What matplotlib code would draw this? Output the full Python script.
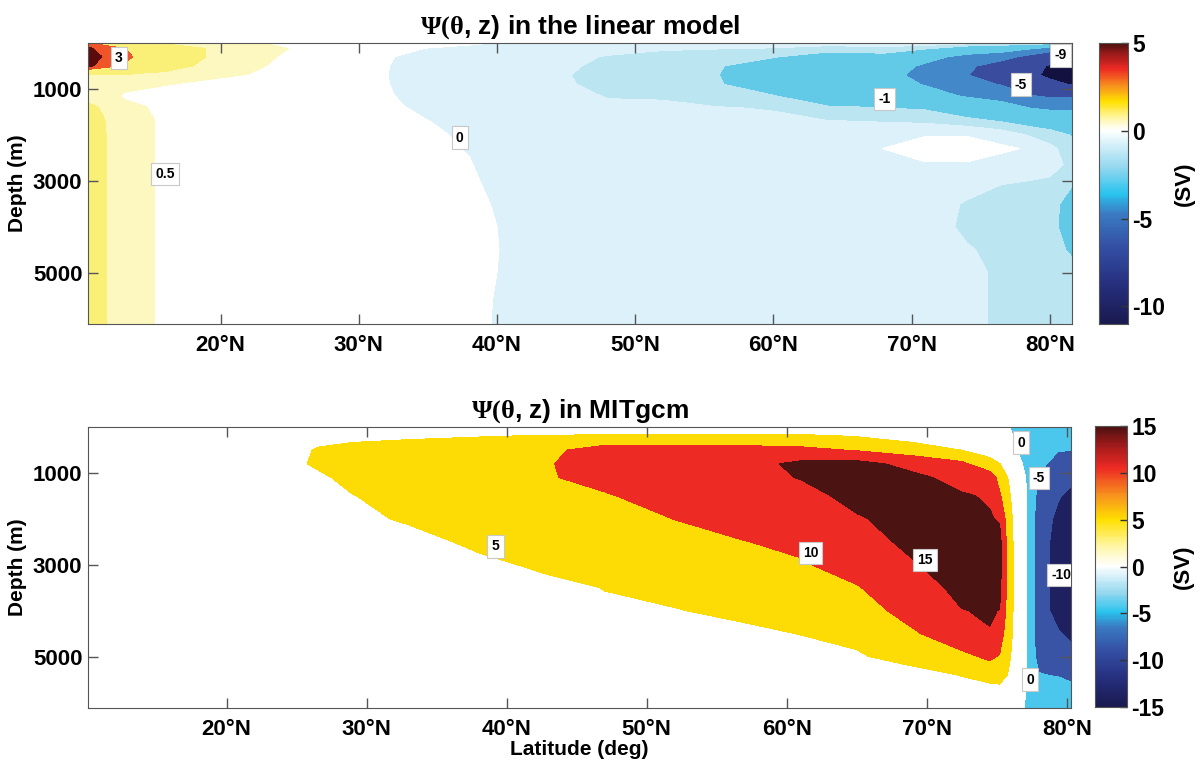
import numpy as np
import matplotlib.pyplot as plt
from matplotlib.colors import LinearSegmentedColormap, TwoSlopeNorm

plt.rcParams['font.family'] = ['Liberation Sans', 'DejaVu Sans']
plt.rcParams['font.weight'] = 'bold'
plt.rcParams['mathtext.fontset'] = 'custom'
plt.rcParams['mathtext.rm'] = 'Liberation Serif'
plt.rcParams['mathtext.it'] = 'Liberation Serif'
plt.rcParams['axes.unicode_minus'] = False

# ---------------- linear model: psi (Sv) ----------------
lat_lin = [10.4, 11.5, 13, 14.5, 16, 19, 22, 25, 29, 32, 35, 38, 41, 45, 48,
           52, 56, 60, 64, 68, 71, 74, 76.5, 78.5, 80, 81.6]
depth_lin = [0, 120, 300, 500, 700, 900, 1150, 1400, 1700, 2000, 2300, 2650,
             3000, 3500, 4000, 4500, 5000, 5600, 6120]
# one profile (over depth_lin) per latitude in lat_lin
psi_lin = np.array([
    [3.3, 4.2, 5.0, 4.3, 0.9, 0.75, 0.85, 1.1, 1.3, 1.35, 1.35, 1.35, 1.35, 1.35, 1.35, 1.35, 1.35, 1.35, 1.35],
    [2.6, 3.6, 3.9, 3.5, 0.95, 0.75, 0.8, 0.95, 1.03, 1.05, 1.05, 1.05, 1.05, 1.05, 1.05, 1.05, 1.05, 1.05, 1.05],
    [1.2, 3.1, 3.5, 2.9, 0.95, 0.62, 0.45, 0.6, 0.68, 0.7, 0.7, 0.7, 0.7, 0.7, 0.7, 0.7, 0.7, 0.7, 0.7],
    [0.85, 2.0, 2.3, 1.8, 0.75, 0.6, 0.35, 0.52, 0.6, 0.6, 0.6, 0.6, 0.6, 0.6, 0.6, 0.6, 0.6, 0.6, 0.6],
    [0.8, 1.8, 2.0, 1.4, 0.75, 0.52, 0.3, 0.35, 0.4, 0.4, 0.4, 0.4, 0.4, 0.4, 0.4, 0.4, 0.4, 0.4, 0.4],
    [0.55, 0.98, 0.98, 0.8, 0.6, 0.4, 0.3, 0.28, 0.26, 0.25, 0.25, 0.25, 0.25, 0.25, 0.25, 0.25, 0.25, 0.25, 0.25],
    [0.55, 0.75, 0.72, 0.65, 0.48, 0.3, 0.2, 0.2, 0.2, 0.2, 0.2, 0.2, 0.2, 0.2, 0.2, 0.2, 0.2, 0.2, 0.2],
    [0.4, 0.49, 0.4, 0.3, 0.2, 0.18, 0.15, 0.15, 0.15, 0.15, 0.15, 0.15, 0.15, 0.15, 0.15, 0.15, 0.15, 0.15, 0.15],
    [0.12, 0.15, 0.15, 0.15, 0.15, 0.15, 0.15, 0.15, 0.15, 0.15, 0.15, 0.15, 0.15, 0.15, 0.15, 0.15, 0.15, 0.15, 0.15],
    [0.1, 0.1, 0.06, 0.03, 0.02, 0.03, 0.06, 0.1, 0.1, 0.1, 0.1, 0.1, 0.1, 0.1, 0.1, 0.1, 0.1, 0.1, 0.1],
    [0.1, -0.01, -0.24, -0.4, -0.4, -0.4, -0.24, -0.11, 0.005, 0.05, 0.08, 0.1, 0.1, 0.1, 0.1, 0.1, 0.1, 0.1, 0.1],
    [0.1, -0.15, -0.3, -0.4, -0.42, -0.42, -0.35, -0.25, -0.1, -0.05, -0.02, 0.02, 0.05, 0.08, 0.1, 0.1, 0.1, 0.1, 0.1],
    [-0.08, -0.2, -0.35, -0.42, -0.45, -0.45, -0.4, -0.35, -0.3, -0.25, -0.22, -0.2, -0.15, -0.08, -0.05, -0.04, -0.05, -0.08, -0.09],
    [-0.15, -0.3, -0.42, -0.47, -0.49, -0.48, -0.45, -0.4, -0.35, -0.3, -0.27, -0.25, -0.22, -0.2, -0.18, -0.17, -0.17, -0.18, -0.18],
    [-0.2, -0.4, -0.52, -0.55, -0.57, -0.56, -0.51, -0.47, -0.42, -0.38, -0.35, -0.32, -0.3, -0.27, -0.25, -0.24, -0.24, -0.24, -0.24],
    [-0.25, -0.4, -0.8, -0.9, -0.92, -0.85, -0.55, -0.42, -0.4, -0.38, -0.36, -0.34, -0.32, -0.3, -0.28, -0.27, -0.26, -0.26, -0.26],
    [-0.3, -0.48, -0.8, -0.95, -0.99, -0.95, -0.8, -0.49, -0.45, -0.4, -0.38, -0.36, -0.34, -0.32, -0.3, -0.29, -0.28, -0.28, -0.28],
    [-0.35, -0.52, -0.95, -1.4, -1.6, -1.45, -0.98, -0.52, -0.45, -0.4, -0.38, -0.36, -0.35, -0.33, -0.32, -0.31, -0.3, -0.3, -0.3],
    [-0.3, -0.7, -1.4, -1.9, -2.2, -2.0, -1.5, -0.95, -0.49, -0.42, -0.38, -0.36, -0.35, -0.34, -0.32, -0.31, -0.3, -0.3, -0.3],
    [-0.3, -0.6, -1.3, -2.0, -2.5, -2.3, -1.7, -1.02, -0.52, -0.3, 0.01, -0.3, -0.4, -0.38, -0.36, -0.34, -0.33, -0.33, -0.33],
    [-0.2, -0.9, -2.3, -3.3, -3.5, -3.1, -2.3, -1.1, -0.6, -0.02, 0.15, -0.03, -0.35, -0.4, -0.38, -0.36, -0.35, -0.35, -0.35],
    [-0.25, -1.6, -3.6, -4.6, -4.9, -4.4, -3.2, -1.6, -0.8, -0.02, 0.15, -0.03, -0.4, -0.52, -0.55, -0.48, -0.44, -0.44, -0.44],
    [-0.3, -2.0, -4.2, -6.0, -6.8, -5.1, -3.8, -2.2, -1.05, -0.2, 0.08, -0.2, -0.48, -0.6, -0.62, -0.56, -0.54, -0.54, -0.54],
    [-0.4, -2.8, -5.6, -7.8, -8.3, -6.8, -4.9, -3.1, -1.3, -0.55, -0.04, -0.3, -0.5, -0.6, -0.62, -0.6, -0.6, -0.6, -0.6],
    [-0.5, -3.6, -7.0, -9.3, -9.6, -8.2, -5.3, -3.4, -1.5, -0.7, -0.4, -0.35, -0.55, -0.75, -0.8, -0.75, -0.7, -0.68, -0.65],
    [-0.6, -4.0, -7.5, -9.8, -10.4, -9.2, -5.2, -3.4, -1.8, -1.05, -0.7, -0.6, -0.9, -1.3, -1.35, -1.1, -0.8, -0.7, -0.65],
]).T
levels_lin = [-30, -9, -5, -3, -1, -0.5, 0, 0.5, 1, 3, 4, 30]
colors_lin = ['#13113f', '#3a4c9e', '#4388c8', '#62c9e7', '#bae5f1', '#dcf1fa',
              '#ffffff', '#fdf8c0', '#faf078', '#f0552a', '#5c0b0c']
lab_lin_text = ['3', '0.5', '0', '-1', '-5', '-9']
lab_lin_lat = [12.64, 16.0, 37.3, 68.05, 77.9, 80.75]
lab_lin_depth = [331, 2858, 2060, 1222, 905, 273]

# ---------------- MITgcm: psi (Sv) ----------------
lat_mit = [10.1, 25, 26.5, 29, 33, 38, 43, 47, 52, 57, 61, 65, 69, 72.5, 74.5,
           75.2, 75.9, 76.6, 77.3, 78.0, 78.7, 79.4, 80.3]
depth_mit = [0, 200, 500, 800, 1100, 1500, 2000, 2500, 3000, 3500, 4000, 4500,
             5000, 5400, 5800, 6120]
psi_mit = np.array([
    [0.2, 0.2, 0.2, 0.2, 0.2, 0.2, 0.2, 0.2, 0.2, 0.2, 0.2, 0.2, 0.2, 0.2, 0.2, 0.2],
    [0.2, 1.5, 3.5, 4.0, 3.0, 2.0, 1.5, 1.2, 1.0, 0.8, 0.6, 0.5, 0.4, 0.3, 0.2, 0.2],
    [0.3, 3.0, 5.5, 6.0, 3.7, 2.8, 2.2, 1.8, 1.5, 1.2, 1.0, 0.8, 0.6, 0.5, 0.3, 0.2],
    [0.3, 3.5, 6.8, 7.5, 7.0, 4.8, 3.8, 3.0, 2.4, 2.0, 1.6, 1.3, 1.0, 0.8, 0.5, 0.3],
    [0.4, 4.2, 7.4, 8.2, 8.3, 7.6, 5.6, 3.3, 2.6, 2.1, 1.7, 1.4, 1.1, 0.8, 0.5, 0.3],
    [0.4, 4.8, 8.0, 8.8, 9.0, 8.6, 7.6, 6.0, 3.9, 2.9, 2.3, 1.8, 1.4, 1.0, 0.6, 0.3],
    [0.4, 5.4, 9.0, 9.7, 9.6, 9.2, 8.4, 7.3, 5.9, 3.85, 2.8, 2.1, 1.6, 1.1, 0.7, 0.3],
    [0.5, 6.0, 12.0, 12.5, 11.8, 9.5, 8.5, 7.4, 6.3, 5.1, 4.4, 3.3, 2.3, 1.6, 1.0, 0.5],
    [0.5, 6.0, 12.2, 13.2, 13.3, 12.5, 10.05, 8.8, 7.6, 6.3, 4.8, 3.7, 2.6, 1.8, 1.1, 0.5],
    [0.5, 6.0, 11.8, 13.4, 13.5, 13.0, 11.9, 9.9, 8.6, 7.4, 6.0, 4.1, 3.0, 2.1, 1.2, 0.5],
    [0.5, 6.0, 11.2, 16.0, 15.2, 13.5, 12.3, 11.0, 9.57, 8.3, 6.9, 5.1, 3.4, 2.4, 1.4, 0.5],
    [0.4, 4.8, 9.6, 16.5, 17.0, 16.3, 14.6, 13.4, 11.8, 9.7, 8.3, 6.6, 4.3, 3.0, 1.8, 0.5],
    [0.3, 3.0, 7.4, 13.5, 16.0, 16.8, 16.6, 15.9, 14.7, 13.2, 11.4, 9.56, 7.5, 2.7, 1.5, 0.4],
    [0.2, 2.0, 4.9, 11.0, 13.5, 15.4, 16.5, 17.0, 16.8, 16.0, 14.9, 12.2, 9.2, 5.2, 2.5, 0.4],
    [0.2, 1.5, 3.8, 6.0, 13.3, 14.6, 15.3, 15.8, 15.9, 15.7, 15.3, 14.86, 10.6, 7.9, 1.3, 0.3],
    [0.1, 1.0, 2.8, 5.05, 8.0, 10.7, 14.6, 16.5, 16.5, 16.2, 14.9, 12.5, 9.7, 7.0, 3.0, 0.2],
    [0.1, 0.8, 2.0, 3.3, 4.4, 5.4, 6.5, 7.0, 7.2, 7.2, 7.0, 6.5, 5.5, 4.4, 2.5, 0.2],
    [-2.0, -1.4, -0.4, 0.6, 1.2, 1.5, 1.6, 1.6, 1.6, 1.6, 1.6, 1.6, 1.4, 1.2, 0.8, 0.3],
    [-3.5, -3.0, -2.0, -1.2, -0.6, -0.5, -0.5, -0.5, -0.5, -0.5, -0.5, -0.5, -0.5, -0.5, -0.4, -0.3],
    [-4.0, -4.2, -4.5, -4.8, -4.95, -7.0, -8.4, -8.4, -8.4, -8.4, -8.4, -8.4, -7.5, -4.64, -2.5, -1.0],
    [-4.0, -4.3, -4.7, -5.05, -6.5, -8.0, -9.3, -9.8, -9.9, -9.9, -9.8, -9.3, -7.5, -5.05, -3.0, -1.2],
    [-4.0, -4.4, -4.9, -6.0, -8.0, -9.7, -11.0, -11.5, -11.5, -11.5, -11.5, -9.7, -7.5, -5.2, -3.2, -1.3],
    [-4.0, -4.5, -4.9, -6.5, -9.0, -11.0, -12.0, -12.5, -12.5, -12.5, -12.5, -10.7, -8.8, -6.0, -3.5, -1.5],
]).T
levels_mit = [-30, -10, -5, 0, 5, 10, 15, 30]
colors_mit = ['#1f2060', '#3953a5', '#4bc6ec', '#ffffff', '#fddb05', '#ee2a24', '#4b1311']
lab_mit_text = ['5', '10', '15', '0', '-5', '-10', '0']
lab_mit_lat = [39.2, 61.7, 69.9, 76.75, 78.0, 79.6, 77.4]
lab_mit_depth = [2600, 2740, 2890, 338, 1109, 3225, 5500]

lat_ticks = [20, 30, 40, 50, 60, 70, 80]
depth_ticks = [1000, 3000, 5000]

# colour scale of the colour bars
cb_pos = [0, 0.1, 0.2, 0.285, 0.335, 0.4, 0.5, 0.565, 0.665, 0.75, 0.85, 0.935, 1.0]
cb_col = ['#1a1a50', '#262f7e', '#3450a5', '#3a7cc4', '#29c3ee', '#8fd6ee', '#ffffff',
          '#fff7b0', '#ffe000', '#f7941d', '#ee2a24', '#9b1a1a', '#4a1010']
cmap = LinearSegmentedColormap.from_list('sv', list(zip(cb_pos, cb_col)))

fig = plt.figure(figsize=(12, 7.67), dpi=100)
ax1 = fig.add_axes([0.0733, 0.5776, 0.82, 0.3664])
ax2 = fig.add_axes([0.0733, 0.0769, 0.8192, 0.3664])
cax1 = fig.add_axes([0.9158, 0.5776, 0.0242, 0.3664])
cax2 = fig.add_axes([0.9125, 0.0782, 0.0267, 0.3664])


def style_axes(ax):
    ax.set_ylim(6120, 0)
    ax.set_xticks(lat_ticks)
    ax.set_xticklabels([f'{v}°N' for v in lat_ticks])
    ax.set_yticks(depth_ticks)
    ax.tick_params(direction='in', top=True, right=True, length=7, width=1,
                   labelsize=16, color='#555555')
    ax.tick_params(axis='x', pad=8)
    ax.tick_params(axis='y', pad=4)
    for s in ax.spines.values():
        s.set_color('#555555')
    ax.set_ylabel('Depth (m)', fontsize=15, fontweight='bold', labelpad=4)


def put_labels(ax, texts, lats, depths):
    for t, x, y in zip(texts, lats, depths):
        ax.text(x, y, t, fontsize=10, fontweight='bold', ha='center', va='center',
                clip_on=True, zorder=5,
                bbox=dict(boxstyle='square,pad=0.3', fc='white', ec='#c8c8c8', lw=0.8))


def draw_cbar(cax, vmin, vmax, ticks):
    norm = TwoSlopeNorm(vmin=vmin, vcenter=0, vmax=vmax)
    vals = np.linspace(vmin, vmax, 301)
    cax.pcolormesh([0, 1], vals, vals[:-1, None], cmap=cmap, norm=norm, shading='flat')
    cax.set_xlim(0, 1)
    cax.set_ylim(vmin, vmax)
    cax.set_xticks([])
    cax.yaxis.tick_right()
    cax.set_yticks(ticks)
    cax.set_yticklabels([str(t) for t in ticks])
    cax.tick_params(direction='in', length=5, width=1, labelsize=16.5, pad=3, color='#333333')
    for s in cax.spines.values():
        s.set_color('#555555')
    cax.yaxis.set_label_position('right')
    cax.set_ylabel('(SV)', fontsize=16, fontweight='bold', labelpad=6)


# top panel
ax1.contourf(lat_lin, depth_lin, psi_lin, levels=levels_lin, colors=colors_lin)
ax1.set_xlim(10.4, 81.6)
style_axes(ax1)
put_labels(ax1, lab_lin_text, lab_lin_lat, lab_lin_depth)
ax1.set_title(r'$\Psi(\theta$, z) in the linear model', fontsize=19,
              fontweight='bold', pad=7)
draw_cbar(cax1, -11, 5, [5, 0, -5, -10])

# bottom panel
ax2.contourf(lat_mit, depth_mit, psi_mit, levels=levels_mit, colors=colors_mit)
ax2.set_xlim(10.1, 80.3)
style_axes(ax2)
put_labels(ax2, lab_mit_text, lab_mit_lat, lab_mit_depth)
ax2.set_title(r'$\Psi(\theta$, z) in MITgcm', fontsize=19, fontweight='bold', pad=7)
ax2.set_xlabel('Latitude (deg)', fontsize=15, fontweight='bold', labelpad=0)
draw_cbar(cax2, -15, 15, [15, 10, 5, 0, -5, -10, -15])

fig.savefig('out.png', dpi=100)
